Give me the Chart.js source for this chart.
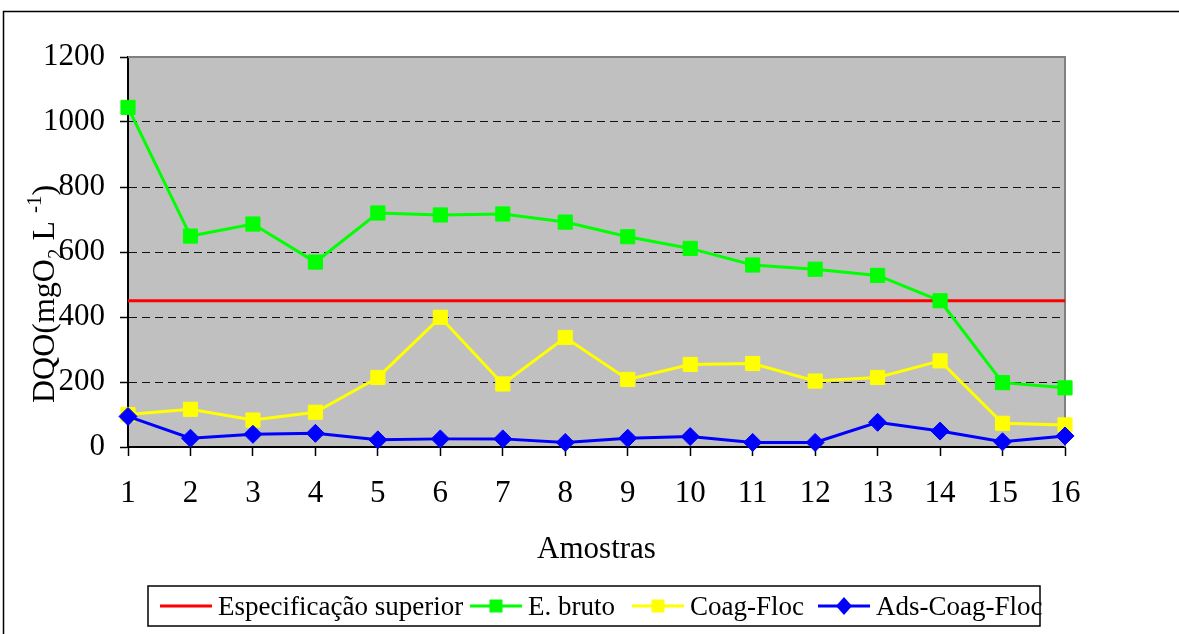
<!DOCTYPE html>
<html>
<head>
<meta charset="utf-8">
<script src="https://cdn.jsdelivr.net/npm/chart.js@4"></script>
<style>
  html, body { margin: 0; padding: 0; background: #fff; }
  #wrap { width: 1179px; height: 634px; }
</style>
</head>
<body>
<div id="wrap"><canvas id="c" width="1179" height="634"></canvas></div>
<script>
// Samples (x axis)
const amostras = ['1', '2', '3', '4', '5', '6', '7', '8', '9', '10', '11', '12', '13', '14', '15', '16'];

// DQO values (mgO2 L-1)
const especificacaoSuperior = [450, 450, 450, 450, 450, 450, 450, 450, 450, 450, 450, 450, 450, 450, 450, 450];
const eBruto = [1045, 649, 686, 569, 720, 714, 717, 692, 647, 611, 560, 547, 528, 450, 198, 182];
const coagFloc = [100, 116, 83, 107, 214, 399, 194, 337, 208, 254, 257, 203, 214, 265, 73, 68];
const adsCoagFloc = [94, 27, 39, 42, 22, 25, 25, 14, 27, 32, 14, 14, 76, 49, 16, 34];

// Y axis ticks
const yTicks = [0, 200, 400, 600, 800, 1000, 1200];

const FONT = "'Liberation Serif', 'Times New Roman', serif";

// Frame, plot background, titles and legend
const decorations = {
  id: 'decorations',
  beforeDraw(chart) {
    const { ctx, chartArea: a } = chart;
    ctx.save();
    ctx.fillStyle = '#fff';
    ctx.fillRect(0, 0, chart.width, chart.height);
    // outer frame
    ctx.strokeStyle = '#000';
    ctx.lineWidth = 1.5;
    ctx.strokeRect(3.5, 11.5, 1200, 700);
    // plot background
    ctx.fillStyle = '#c0c0c0';
    ctx.fillRect(a.left, a.top, a.right - a.left, a.bottom - a.top);
    ctx.restore();
  },
  beforeDatasetsDraw(chart) {
    const { ctx, chartArea: a } = chart;
    ctx.save();
    ctx.strokeStyle = '#808080';
    ctx.lineWidth = 2;
    ctx.beginPath();
    ctx.moveTo(a.left, a.top);
    ctx.lineTo(a.right, a.top);
    ctx.lineTo(a.right, a.bottom);
    ctx.stroke();
    ctx.restore();
  },
  afterDraw(chart) {
    const { ctx, chartArea: a } = chart;
    ctx.save();
    ctx.fillStyle = '#000';
    ctx.textBaseline = 'alphabetic';

    // x axis title
    ctx.font = `31px ${FONT}`;
    ctx.textAlign = 'center';
    ctx.fillText('Amostras', (a.left + a.right) / 2, 558);

    // y axis title with subscript / superscript
    ctx.save();
    ctx.translate(54, 403);
    ctx.rotate(-Math.PI / 2);
    ctx.textAlign = 'left';
    const parts = [
      { t: 'DQO(mgO', size: 32, dy: 0 },
      { t: '2', size: 21, dy: 8 },
      { t: ' L ', size: 32, dy: 0 },
      { t: '-1', size: 21, dy: -13 },
      { t: ')', size: 32, dy: 0 }
    ];
    let px = 0;
    parts.forEach(p => {
      ctx.font = `${p.size}px ${FONT}`;
      ctx.fillText(p.t, px, p.dy);
      px += ctx.measureText(p.t).width;
    });
    ctx.restore();

    // legend
    ctx.strokeStyle = '#000';
    ctx.lineWidth = 1.5;
    ctx.strokeRect(148, 586, 892, 40);
    const ly = 606;
    const starts = [160, 470, 632, 818];
    ctx.font = `27px ${FONT}`;
    ctx.textAlign = 'left';
    chart.data.datasets.forEach((ds, i) => {
      const x0 = starts[i];
      ctx.strokeStyle = ds.borderColor;
      ctx.lineWidth = 3;
      ctx.beginPath();
      ctx.moveTo(x0, ly);
      ctx.lineTo(x0 + 52, ly);
      ctx.stroke();
      const cx = x0 + 26;
      ctx.fillStyle = ds.borderColor;
      if (ds.pointStyle === 'rect' && ds.pointRadius > 0) {
        ctx.fillRect(cx - 6.5, ly - 6.5, 13, 13);
      } else if (ds.pointStyle === 'rectRot' && ds.pointRadius > 0) {
        ctx.beginPath();
        ctx.moveTo(cx, ly - 9);
        ctx.lineTo(cx + 8, ly);
        ctx.lineTo(cx, ly + 9);
        ctx.lineTo(cx - 8, ly);
        ctx.closePath();
        ctx.fill();
      }
      ctx.fillStyle = '#000';
      ctx.fillText(ds.label, x0 + 58, ly + 9);
    });
    ctx.restore();
  }
};

new Chart(document.getElementById('c'), {
  type: 'line',
  data: {
    labels: amostras,
    datasets: [
      {
        label: 'Especificação superior',
        data: especificacaoSuperior,
        borderColor: '#ff0000',
        backgroundColor: '#ff0000',
        borderWidth: 3,
        pointRadius: 0,
        pointStyle: 'line',
        order: 4
      },
      {
        label: 'E. bruto',
        data: eBruto,
        borderColor: '#00ff00',
        backgroundColor: '#00ff00',
        pointBackgroundColor: '#00ff00',
        pointBorderColor: '#00ff00',
        borderWidth: 3,
        pointStyle: 'rect',
        pointRadius: 10,
        pointBorderWidth: 1,
        order: 3
      },
      {
        label: 'Coag-Floc',
        data: coagFloc,
        borderColor: '#ffff00',
        backgroundColor: '#ffff00',
        pointBackgroundColor: '#ffff00',
        pointBorderColor: '#ffff00',
        borderWidth: 3,
        pointStyle: 'rect',
        pointRadius: 10,
        pointBorderWidth: 1,
        order: 2
      },
      {
        label: 'Ads-Coag-Floc',
        data: adsCoagFloc,
        borderColor: '#0000ff',
        backgroundColor: '#0000ff',
        pointBackgroundColor: '#0000ff',
        pointBorderColor: '#0000ff',
        borderWidth: 3,
        pointStyle: 'rectRot',
        pointRadius: 9,
        pointBorderWidth: 1,
        order: 1
      }
    ]
  },
  options: {
    responsive: false,
    animation: false,
    devicePixelRatio: 1,
    clip: false,
    elements: { line: { tension: 0 } },
    layout: { padding: { top: 57, right: 114, left: 0, bottom: 0 } },
    plugins: {
      legend: { display: false },
      tooltip: { enabled: false },
      title: { display: false }
    },
    scales: {
      x: {
        type: 'category',
        offset: false,
        grid: {
          drawOnChartArea: false,
          drawTicks: true,
          tickLength: 9,
          tickColor: '#000',
          tickWidth: 1.5
        },
        border: { display: true, color: '#000', width: 2 },
        ticks: {
          font: { family: FONT, size: 31 },
          color: '#000',
          padding: 19,
          maxRotation: 0,
          autoSkip: false
        },
        afterFit(s) { s.height = 187; }
      },
      y: {
        min: 0,
        max: 1200,
        afterBuildTicks(s) { s.ticks = yTicks.map(v => ({ value: v })); },
        ticks: {
          font: { family: FONT, size: 31 },
          color: '#000',
          padding: 15,
          callback: v => String(v)
        },
        grid: {
          color: c => (c.tick && (c.tick.value === 0 || c.tick.value === 1200)) ? 'rgba(0,0,0,0)' : '#111',
          lineWidth: 1,
          tickColor: '#000',
          tickLength: 8,
          tickWidth: 1.5
        },
        border: { display: true, color: '#000', width: 2, dash: [8, 5] },
        afterFit(s) { s.width = 128; }
      }
    }
  },
  plugins: [decorations]
});
</script>
</body>
</html>
